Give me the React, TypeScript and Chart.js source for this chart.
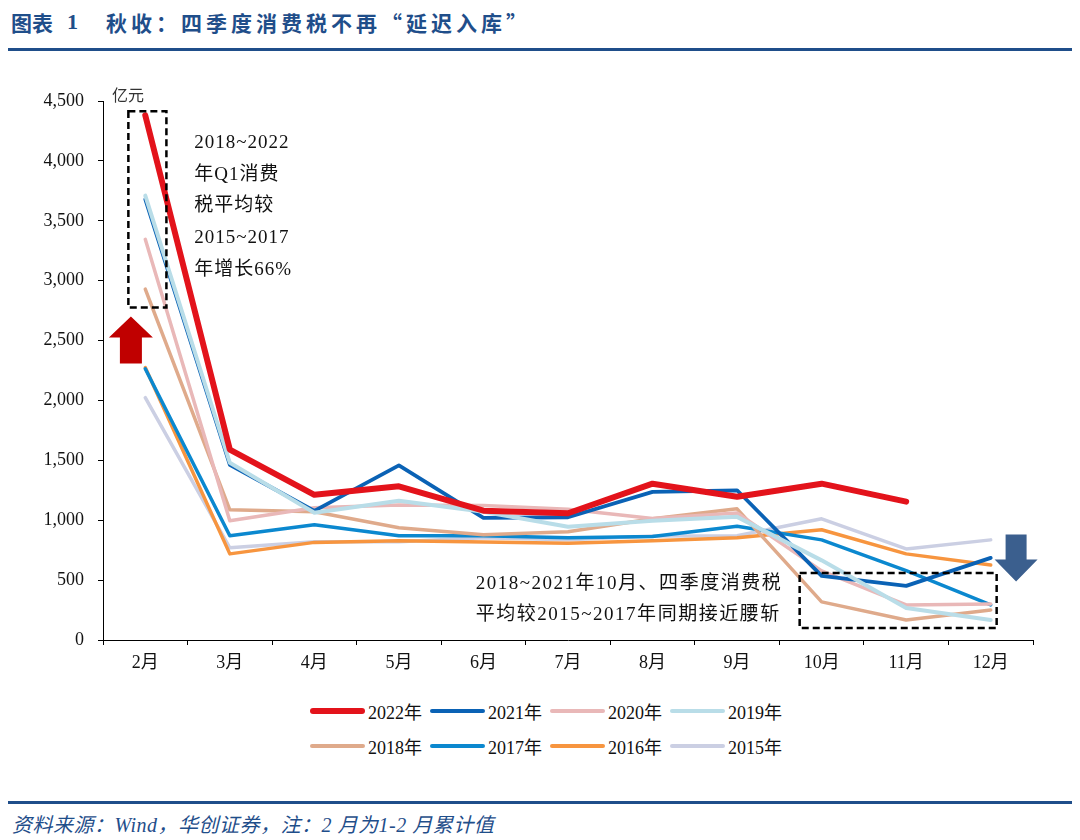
import React, { useEffect, useRef } from "react";
import { Chart, registerables } from "chart.js";

Chart.register(...registerables);

const months = ["2月", "3月", "4月", "5月", "6月", "7月", "8月", "9月", "10月", "11月", "12月"];
const y2022 = [4380, 1590, 1212, 1283, 1080, 1058, 1305, 1196, 1305, 1155, null];
const y2021 = [3680, 1463, 1078, 1458, 1020, 1025, 1237, 1250, 535, 452, 686];
const y2020 = [3345, 995, 1104, 1128, 1122, 1092, 1015, 1060, 577, 293, 300];
const y2019 = [3710, 1480, 1062, 1162, 1070, 945, 995, 1028, 665, 268, 167];
const y2018 = [2930, 1087, 1070, 937, 878, 903, 1012, 1095, 318, 167, 251];
const y2017 = [2265, 870, 962, 870, 870, 853, 865, 950, 836, 580, 293];
const y2016 = [2275, 719, 815, 828, 818, 808, 828, 853, 920, 719, 627];
const y2015 = [2023, 770, 820, 820, 853, 836, 868, 870, 1012, 760, 836];

const seriesNames = ["2022年", "2021年", "2020年", "2019年", "2018年", "2017年", "2016年", "2015年"];
const seriesData = [y2022, y2021, y2020, y2019, y2018, y2017, y2016, y2015];
const seriesColors = ["#e3131b", "#0a62b5", "#e9b8b8", "#b9dde8", "#dfaa8b", "#0b88cf", "#f7953f", "#cbcfe3"];
const seriesWidths = [6, 3.8, 3.5, 4, 3.5, 3.5, 3.5, 3.5];

const yTicks = [0, 500, 1000, 1500, 2000, 2500, 3000, 3500, 4000, 4500];

const note1 = ["2018~2022", "年Q1消费", "税平均较", "2015~2017", "年增长66%"];
const note2 = ["2018~2021年10月、四季度消费税", "平均较2015~2017年同期接近腰斩"];

const FONT = "'Times New Roman', 'Liberation Serif', 'Noto Sans CJK SC', serif";
const CJK = "'Noto Sans CJK SC', 'Liberation Serif', serif";
const BLUE = "#1f4e8a";

const annotate = {
  id: "annotate",
  afterDatasetsDraw(chart: any) {
    const { ctx, scales } = chart;
    const x = scales.x;
    const y = scales.y;
    ctx.save();
    ctx.fillStyle = "#333";
    ctx.font = `16px ${FONT}`;
    ctx.textBaseline = "middle";
    ctx.textAlign = "left";
    ctx.fillText("亿元", chart.chartArea.left + 9, y.getPixelForValue(4500) - 4);

    ctx.strokeStyle = "#000";
    ctx.lineWidth = 2.5;
    ctx.setLineDash([7, 4]);
    const box = (i0: number, i1: number, v0: number, v1: number) => {
      const xa = x.getPixelForValue(i0);
      const xb = x.getPixelForValue(i1);
      const ya = y.getPixelForValue(v0);
      const yb = y.getPixelForValue(v1);
      ctx.strokeRect(xa, ya, xb - xa, yb - ya);
    };
    box(-0.2, 0.25, 4415, 2776);
    box(7.74, 10.07, 560, 100);
    ctx.setLineDash([]);

    const arrow = (cx: number, yStart: number, dir: number, color: string) => {
      ctx.fillStyle = color;
      ctx.beginPath();
      if (dir < 0) {
        const tip = yStart;
        ctx.moveTo(cx, tip);
        ctx.lineTo(cx + 22, tip + 21);
        ctx.lineTo(cx + 11, tip + 21);
        ctx.lineTo(cx + 11, tip + 47);
        ctx.lineTo(cx - 11, tip + 47);
        ctx.lineTo(cx - 11, tip + 21);
        ctx.lineTo(cx - 22, tip + 21);
      } else {
        const top = yStart;
        ctx.moveTo(cx - 10.5, top);
        ctx.lineTo(cx + 10.5, top);
        ctx.lineTo(cx + 10.5, top + 25);
        ctx.lineTo(cx + 21.5, top + 25);
        ctx.lineTo(cx, top + 47);
        ctx.lineTo(cx - 21.5, top + 25);
        ctx.lineTo(cx - 10.5, top + 25);
      }
      ctx.closePath();
      ctx.fill();
    };
    arrow(x.getPixelForValue(-0.17), y.getPixelForValue(2700), -1, "#c00000");
    arrow(x.getPixelForValue(10.3), y.getPixelForValue(880), 1, "#3b5f8e");

    ctx.fillStyle = "#111";
    ctx.font = `19px ${FONT}`;
    ctx.textBaseline = "middle";
    if ("letterSpacing" in ctx) (ctx as any).letterSpacing = "1px";
    const n1x = x.getPixelForValue(0.58);
    const n1y = y.getPixelForValue(4150);
    note1.forEach((t, i) => ctx.fillText(t, n1x, n1y + i * 31.7));
    if ("letterSpacing" in ctx) (ctx as any).letterSpacing = "1.5px";
    const n2x = x.getPixelForValue(3.91);
    const n2y = y.getPixelForValue(468);
    note2.forEach((t, i) => ctx.fillText(t, n2x, n2y + i * 31));
    ctx.restore();
  },
};

export default function App() {
  const ref = useRef<HTMLCanvasElement | null>(null);
  useEffect(() => {
    if (!ref.current) return;
    const order = [0, 2, 3, 1, 4, 5, 6, 7];
    const chart = new Chart(ref.current, {
      type: "line",
      data: {
        labels: months,
        datasets: seriesNames.map((name, i) => ({
          label: name,
          data: seriesData[i],
          borderColor: seriesColors[i],
          backgroundColor: seriesColors[i],
          borderWidth: seriesWidths[i],
          pointRadius: 0,
          tension: 0,
          borderCapStyle: "round",
          borderJoinStyle: "round",
          order: order[i],
        })),
      },
      options: {
        responsive: false,
        animation: false,
        layout: { padding: { top: 41, right: 47, bottom: 0, left: 0 } },
        plugins: { legend: { display: false }, tooltip: { enabled: false } },
        scales: {
          x: {
            type: "category",
            offset: true,
            grid: { display: true, offset: true, drawOnChartArea: false, drawTicks: true, tickLength: 5, color: "#000", lineWidth: 1 },
            border: { display: true, color: "#000", width: 1 },
            ticks: { color: "#111", font: { family: FONT, size: 18 }, padding: 7, maxRotation: 0, autoSkip: false },
            afterFit: (s: any) => { s.height = 40; },
          },
          y: {
            min: 0,
            max: 4500,
            afterBuildTicks: (s: any) => { s.ticks = yTicks.map((v) => ({ value: v })); },
            grid: { display: true, drawOnChartArea: false, drawTicks: true, tickLength: 5, color: "#000", lineWidth: 1 },
            border: { display: true, color: "#000", width: 1 },
            ticks: {
              color: "#111",
              font: { family: FONT, size: 18 },
              padding: 14,
              callback: (v: any) => Number(v).toLocaleString("en-US"),
            },
            afterFit: (s: any) => { s.width = 103; },
          },
        },
      },
      plugins: [annotate],
    });
    return () => chart.destroy();
  }, []);

  const legendRows = [seriesNames.slice(0, 4), seriesNames.slice(4, 8)];

  return (
    <div style={{ position: "absolute", left: 0, top: 0, width: 1080, height: 840, background: "#fff", fontFamily: FONT, overflow: "hidden" }}>
      <div style={{ position: "absolute", left: 11, top: 7, fontSize: 21, fontWeight: "bold", color: BLUE, whiteSpace: "nowrap", fontFamily: CJK, lineHeight: "30px" }}>
        图表
      </div>
      <div style={{ position: "absolute", left: 67, top: 7, fontSize: 22, fontWeight: "bold", color: BLUE, whiteSpace: "nowrap", fontFamily: FONT, lineHeight: "30px" }}>
        1
      </div>
      <div style={{ position: "absolute", left: 106, top: 7, fontSize: 21, fontWeight: "bold", color: BLUE, letterSpacing: 4, whiteSpace: "nowrap", fontFamily: CJK, lineHeight: "30px" }}>
        秋收：四季度消费税不再“延迟入库”
      </div>
      <div style={{ position: "absolute", left: 8, top: 48, width: 1064, height: 3, background: BLUE }} />
      <canvas ref={ref} width={1080} height={620} style={{ position: "absolute", left: 0, top: 60, width: 1080, height: 620 }} />
      <div style={{ position: "absolute", left: 310, top: 693 }}>
        {legendRows.map((row, r) => (
          <div key={r} style={{ display: "flex", height: 35, alignItems: "center" }}>
            {row.map((name) => {
              const i = seriesNames.indexOf(name);
              return (
                <div key={name} style={{ width: 120, display: "flex", alignItems: "center" }}>
                  <span style={{ display: "inline-block", width: 55, height: i === 0 ? 6 : 4, borderRadius: 3, background: seriesColors[i], marginRight: 3 }} />
                  <span style={{ fontSize: 18, color: "#111", whiteSpace: "nowrap" }}>{name}</span>
                </div>
              );
            })}
          </div>
        ))}
      </div>
      <div style={{ position: "absolute", left: 8, top: 801, width: 1064, height: 2.5, background: BLUE }} />
      <div style={{ position: "absolute", left: 12, top: 809, fontSize: 20, letterSpacing: 0.5, fontStyle: "italic", color: BLUE, whiteSpace: "nowrap" }}>
        资料来源：Wind，华创证券，注：2 月为1-2 月累计值
      </div>
    </div>
  );
}
